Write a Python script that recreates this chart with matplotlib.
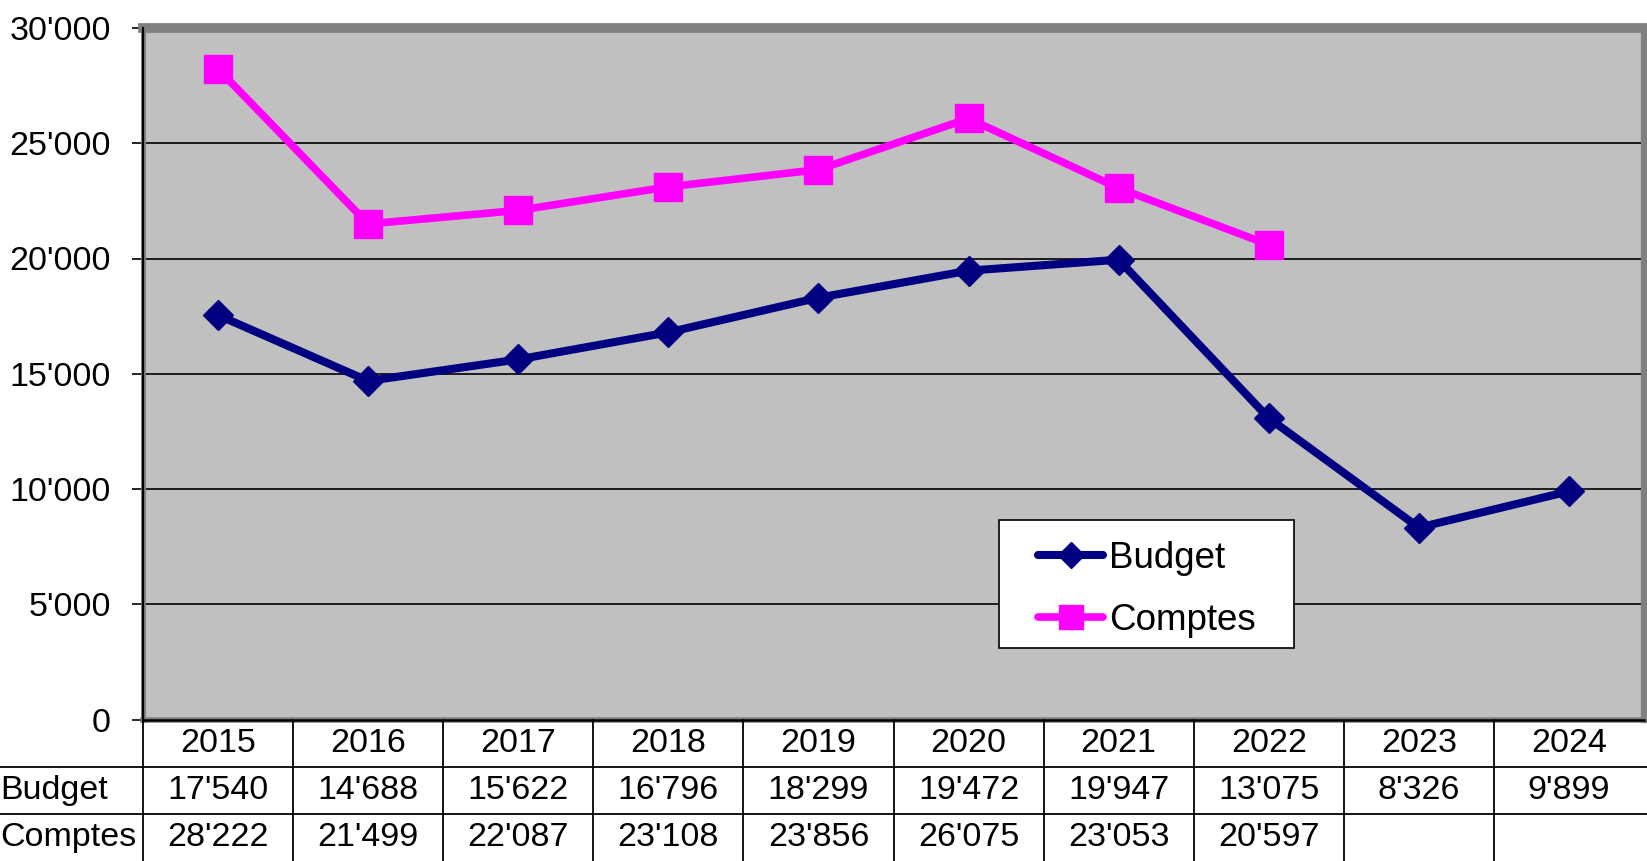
import numpy as np
import matplotlib
matplotlib.use("Agg")
import matplotlib.pyplot as plt
from matplotlib.patches import Rectangle
from matplotlib.lines import Line2D
from matplotlib.transforms import blended_transform_factory

# ---- data ----
years = ["2015", "2016", "2017", "2018", "2019", "2020", "2021", "2022", "2023", "2024"]
budget = [17540, 14688, 15622, 16796, 18299, 19472, 19947, 13075, 8326, 9899]
comptes = [28222, 21499, 22087, 23108, 23856, 26075, 23053, 20597, None, None]
series_names = ["Budget", "Comptes"]
y_ticks = [0, 5000, 10000, 15000, 20000, 25000, 30000]


def fmt(v):
    if v is None:
        return ""
    return f"{v:,}".replace(",", "'")


plt.rcParams['font.family'] = ['Liberation Sans', 'DejaVu Sans']
FS = 24.5
LFS = 26.5

W, H = 1647, 861
fig = plt.figure(figsize=(W / 100, H / 100), dpi=100)
fig.patch.set_facecolor("white")

x_left, x_right = 143, 1644
y_top, y_bot = 28, 719.5
ax = fig.add_axes([x_left / W, (H - y_bot) / H, (x_right - x_left) / W, (y_bot - y_top) / H])
ax.set_facecolor("#C0C0C0")

x = np.arange(len(years))
b = np.array(budget, dtype=float)
c = np.array([np.nan if v is None else v for v in comptes], dtype=float)

ax.set_xlim(-0.5, len(years) - 0.5)
ax.set_ylim(0, 30000)
ax.set_yticks(y_ticks)
ax.set_yticklabels([fmt(v) for v in y_ticks], fontsize=FS)
ax.set_xticks([])
ax.tick_params(axis='y', length=8, width=1.2, pad=15, color='black', direction='out')
ax.yaxis.grid(True, color='black', linewidth=1.2)
ax.set_axisbelow(True)

for s in ['top', 'right']:
    ax.spines[s].set_color('#808080')
ax.spines['top'].set_linewidth(7)
ax.spines['right'].set_linewidth(4.5)
ax.spines['left'].set_color('#808080')
ax.spines['left'].set_linewidth(3.5)
ax.spines['bottom'].set_color('#808080')
ax.spines['bottom'].set_linewidth(4)
# inner black axis lines
ax.plot([0, 0], [0, 1], transform=ax.transAxes, color='black', lw=1.6, clip_on=False, zorder=3)
ax.plot([0, 1], [0, 0], transform=ax.transAxes, color='black', lw=1.8, clip_on=False, zorder=3)

ax.plot(x, b, color='#000080', lw=5.8, marker='D', ms=15, mec='#000080', mfc='#000080',
        label=series_names[0], zorder=4, solid_joinstyle='round', solid_capstyle='round')
ax.plot(x, c, color='#FF00FF', lw=5.5, marker='s', ms=20, mec='#FF00FF', mfc='#FF00FF',
        label=series_names[1], zorder=3, solid_joinstyle='round', solid_capstyle='round')

# legend box (drawn as a frame patch) and legend entries
lx0, ly0, lx1, ly1 = 999, 520, 1294, 648
ax.add_patch(Rectangle((lx0 / W, 1 - ly1 / H), (lx1 - lx0) / W, (ly1 - ly0) / H,
                       transform=fig.transFigure, facecolor='white', edgecolor='black',
                       linewidth=1.2, zorder=6, clip_on=False))
leg = ax.legend(loc='upper left', bbox_to_anchor=(1038 / W, 1 - 540.5 / H),
                bbox_transform=fig.transFigure, frameon=False, fontsize=LFS,
                borderpad=0, borderaxespad=0, handlelength=1.77, handletextpad=0.15,
                labelspacing=0.735, markerscale=0.85)
leg.set_zorder(7)

# ---- data table below ----
tax = fig.add_axes([x_left / W, 0, (x_right - x_left) / W, (H - y_bot) / H])
tax.set_xlim(-0.5, len(years) - 0.5)
tax.set_ylim(0, 3)
tax.axis('off')

# vertical column lines
for i in range(len(years)):
    tax.plot([i - 0.5, i - 0.5], [0, 3], color='black', lw=1.3, clip_on=False)
# horizontal row lines spanning from the figure left edge
bt = blended_transform_factory(fig.transFigure, tax.transData)
for yy in [1, 2]:
    tax.add_line(Line2D([0, 1], [yy, yy], transform=bt, color='black', lw=1.3, clip_on=False))

for i, yr in enumerate(years):
    tax.text(i, 2.5, yr, ha='center', va='center', fontsize=FS)
    tax.text(i, 1.5, fmt(budget[i]), ha='center', va='center', fontsize=FS)
    tax.text(i, 0.5, fmt(comptes[i]), ha='center', va='center', fontsize=FS)

tax.text(0 / W, 1.5, series_names[0], transform=bt, ha='left', va='center', fontsize=FS)
tax.text(0 / W, 0.5, series_names[1], transform=bt, ha='left', va='center', fontsize=FS)

fig.savefig("out.png", dpi=100)
